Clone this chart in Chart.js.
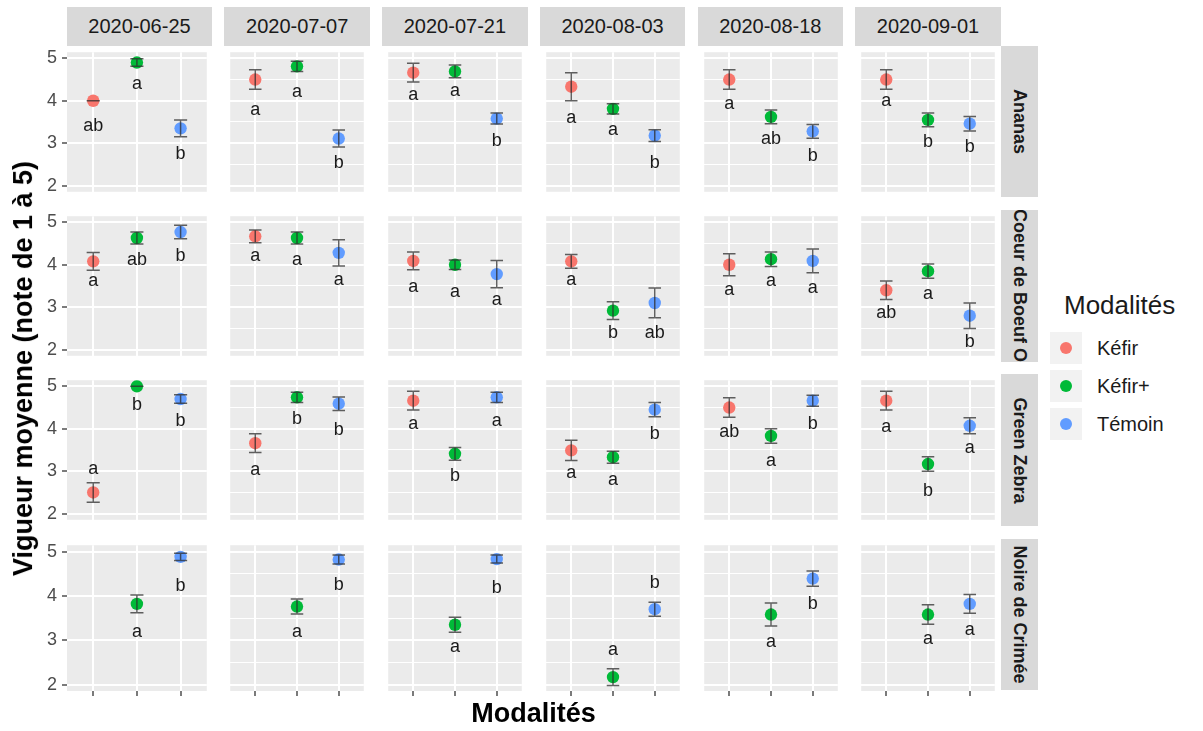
<!DOCTYPE html>
<html>
<head>
<meta charset="utf-8">
<script src="https://cdn.jsdelivr.net/npm/chart.js@4.4.1/dist/chart.umd.min.js"></script>
<style>
  body { margin: 0; background: #fff; font-family: "Liberation Sans", Arial, sans-serif; }
  #fig { position: relative; width: 1203px; height: 731px; overflow: hidden; }
  #fig canvas { position: absolute; }
  .strip { position: absolute; background: #D9D9D9; color: #1A1A1A; display: flex;
           align-items: center; justify-content: center; overflow: hidden; white-space: nowrap; }
  .strip.top { font-size: 20px; }
  .strip.side span { transform: rotate(90deg); font-weight: bold; font-size: 18px; display: block; }
  .title { position: absolute; font-weight: bold; font-size: 27px; color: #000; white-space: nowrap; }
  #legend { position: absolute; left: 1050px; top: 289px; color: #1A1A1A; }
  #legend .lt { font-size: 26px; margin-left: 14px; height: 40px; line-height: 32px; }
  #legend .row { display: flex; align-items: center; height: 38px; }
  #legend .key { width: 32px; height: 32px; background: #F2F2F2; position: relative; margin-right: 15px; }
  #legend .dot { position: absolute; left: 10px; top: 10px; width: 12px; height: 12px; border-radius: 50%; }
  #legend .lab { font-size: 20px; }
</style>
</head>
<body>
<div id="fig"></div>
<script>
// ── data ──────────────────────────────────────────────────────────────
const DATES     = ['2020-06-25', '2020-07-07', '2020-07-21', '2020-08-03', '2020-08-18', '2020-09-01'];
const VARIETIES = ['Ananas', 'Coeur de Boeuf O', 'Green Zebra', 'Noire de Crimée'];
const MODALITES = ['Kéfir', 'Kéfir+', 'Témoin'];
const COLORS    = ['#F8766D', '#00BA38', '#619CFF'];
const Y_TICKS   = [2, 3, 4, 5];

// mean score per date, one entry per modalité (Kéfir, Kéfir+, Témoin)
const meanAnanas = [[4.0, 4.9, 3.35], [4.5, 4.81, 3.11], [4.66, 4.69, 3.58], [4.33, 3.81, 3.18], [4.5, 3.62, 3.28], [4.5, 3.55, 3.46]];
const seAnanas   = [[0, 0.09, 0.2], [0.23, 0.12, 0.2], [0.22, 0.15, 0.13], [0.33, 0.12, 0.14], [0.23, 0.16, 0.16], [0.23, 0.16, 0.17]];
const letAnanas  = [['ab', 'a', 'b'], ['a', 'a', 'b'], ['a', 'a', 'b'], ['a', 'a', 'b'], ['a', 'ab', 'b'], ['a', 'b', 'b']];
const posAnanas  = [[3.41, 4.40, 2.74], [3.79, 4.20, 2.54], [4.13, 4.22, 3.06], [3.59, 3.31, 2.54], [3.92, 3.10, 2.70], [3.99, 3.03, 2.90]];

const meanCoeur = [[4.08, 4.63, 4.77], [4.67, 4.63, 4.28], [4.09, 4.0, 3.78], [4.08, 2.92, 3.1], [4.0, 4.13, 4.09], [3.4, 3.85, 2.8]];
const seCoeur   = [[0.21, 0.14, 0.16], [0.15, 0.14, 0.31], [0.21, 0.11, 0.32], [0.16, 0.21, 0.35], [0.26, 0.17, 0.28], [0.22, 0.17, 0.3]];
const letCoeur  = [['a', 'ab', 'b'], ['a', 'a', 'a'], ['a', 'a', 'a'], ['a', 'b', 'ab'], ['a', 'a', 'a'], ['ab', 'a', 'b']];
const posCoeur  = [[3.62, 4.12, 4.21], [4.21, 4.10, 3.64], [3.47, 3.36, 3.16], [3.64, 2.40, 2.40], [3.40, 3.62, 3.46], [2.86, 3.31, 2.19]];

const meanZebra = [[2.5, 5.0, 4.7], [3.66, 4.74, 4.59], [4.66, 3.41, 4.74], [3.49, 3.33, 4.45], [4.5, 3.83, 4.66], [4.66, 3.17, 4.07]];
const seZebra   = [[0.23, 0, 0.1], [0.22, 0.12, 0.16], [0.22, 0.15, 0.12], [0.24, 0.14, 0.17], [0.23, 0.17, 0.13], [0.22, 0.17, 0.19]];
const letZebra  = [['a', 'b', 'b'], ['a', 'b', 'b'], ['a', 'b', 'a'], ['a', 'a', 'b'], ['ab', 'a', 'b'], ['a', 'b', 'a']];
const posZebra  = [[3.05, 4.57, 4.19], [3.03, 4.24, 3.97], [4.12, 2.89, 4.19], [2.96, 2.80, 3.87], [3.92, 3.25, 4.10], [4.05, 2.53, 3.54]];

const meanNoire = [[null, 3.82, 4.88], [null, 3.76, 4.82], [null, 3.35, 4.83], [null, 2.17, 3.7], [null, 3.58, 4.39], [null, 3.58, 3.82]];
const seNoire   = [[null, 0.2, 0.08], [null, 0.17, 0.1], [null, 0.17, 0.09], [null, 0.19, 0.16], [null, 0.26, 0.17], [null, 0.22, 0.21]];
const letNoire  = [[null, 'a', 'b'], [null, 'a', 'b'], [null, 'a', 'b'], [null, 'a', 'b'], [null, 'a', 'b'], [null, 'a', 'a']];
const posNoire  = [[null, 3.19, 4.23], [null, 3.19, 4.24], [null, 2.85, 4.17], [null, 2.78, 4.29], [null, 2.96, 3.82], [null, 3.03, 3.24]];

const MEANS   = [meanAnanas, meanCoeur, meanZebra, meanNoire];
const SES     = [seAnanas, seCoeur, seZebra, seNoire];
const LETTERS = [letAnanas, letCoeur, letZebra, letNoire];
const LPOS    = [posAnanas, posCoeur, posZebra, posNoire];

// ── layout ────────────────────────────────────────────────────────────
const PX0 = 66.7, PW = 145.6, GX = 12.1;
const PY0 = 45.7, PH = 151.8, GY = 12.5;
const STRIP_H = 39, STRIP_W = 37;
const fig = document.getElementById('fig');

const panelBg = {
  id: 'panelBg',
  beforeDraw(chart) {
    const { ctx, chartArea: a } = chart;
    ctx.save();
    ctx.fillStyle = '#EBEBEB';
    ctx.fillRect(a.left, a.top, a.right - a.left, a.bottom - a.top);
    ctx.restore();
  },
};

const errorBars = {
  id: 'errorBars',
  afterDatasetsDraw(chart) {
    const { ctx, scales: { x, y } } = chart;
    ctx.save();
    ctx.strokeStyle = 'rgba(45,45,45,0.75)';
    ctx.lineWidth = 1.5;
    chart.data.datasets.forEach(ds => ds.data.forEach(d => {
      const px = x.getPixelForValue(d.x);
      const hw = x.getPixelForValue(d.x + 0.15) - px;
      const y1 = y.getPixelForValue(d.y + d.se), y2 = y.getPixelForValue(d.y - d.se);
      ctx.beginPath();
      ctx.moveTo(px - hw, y1); ctx.lineTo(px + hw, y1);
      ctx.moveTo(px, y1); ctx.lineTo(px, y2);
      ctx.moveTo(px - hw, y2); ctx.lineTo(px + hw, y2);
      ctx.stroke();
    }));
    ctx.restore();
  },
};

const letterLabels = {
  id: 'letterLabels',
  afterDatasetsDraw(chart) {
    const { ctx, scales: { x, y } } = chart;
    ctx.save();
    ctx.fillStyle = '#1A1A1A';
    ctx.font = '18px "Liberation Sans", Arial, sans-serif';
    ctx.textAlign = 'center';
    ctx.textBaseline = 'middle';
    chart.data.datasets.forEach(ds => ds.data.forEach(d => {
      ctx.fillText(d.lab, x.getPixelForValue(d.x), y.getPixelForValue(d.ly));
    }));
    ctx.restore();
  },
};

function makePanel(r, c) {
  const left = c === 0, bottom = r === VARIETIES.length - 1;
  const L = left ? 40 : 0, B = bottom ? 8 : 0;
  const canvas = document.createElement('canvas');
  const w = Math.round(PW + L), h = Math.round(PH + B);
  canvas.width = w; canvas.height = h;
  canvas.style.left = (PX0 + c * (PW + GX) - L) + 'px';
  canvas.style.top = (PY0 + r * (PH + GY)) + 'px';
  fig.appendChild(canvas);

  const datasets = MODALITES.map((m, k) => {
    const mean = MEANS[r][c][k];
    return {
      label: m,
      data: mean == null ? [] : [{ x: k + 1, y: mean, se: SES[r][c][k], lab: LETTERS[r][c][k], ly: LPOS[r][c][k] }],
      backgroundColor: COLORS[k],
      borderWidth: 0,
      pointRadius: 6.2,
      pointHoverRadius: 6.2,
    };
  });

  new Chart(canvas, {
    type: 'scatter',
    data: { datasets },
    options: {
      responsive: false,
      animation: false,
      events: [],
      layout: { padding: 0 },
      plugins: { legend: { display: false }, tooltip: { enabled: false } },
      scales: {
        x: {
          type: 'linear', min: 0.4, max: 3.6,
          afterBuildTicks: s => { s.ticks = [1, 2, 3].map(v => ({ value: v })); },
          afterFit: s => { s.height = B; s.paddingLeft = 0; s.paddingRight = 0; },
          grid: { color: '#FFFFFF', lineWidth: 2, drawTicks: bottom, tickLength: 5, tickColor: '#333333', tickWidth: 1.3 },
          border: { display: false },
          ticks: { display: false },
        },
        y: {
          min: 1.857, max: 5.143,
          afterBuildTicks: s => { s.ticks = [2, 2.5, 3, 3.5, 4, 4.5, 5].map(v => ({ value: v })); },
          afterFit: s => { s.width = L; s.paddingTop = 0; s.paddingBottom = 0; },
          grid: {
            color: '#FFFFFF',
            lineWidth: ctx => (Y_TICKS.includes(ctx.tick.value) ? 2 : 1),
            drawTicks: left, tickLength: 5, tickWidth: 1.3,
            tickColor: ctx => (Y_TICKS.includes(ctx.tick.value) ? '#333333' : 'rgba(0,0,0,0)'),
          },
          border: { display: false },
          ticks: {
            display: left, padding: 5, color: '#4D4D4D',
            font: { size: 18, family: '"Liberation Sans", Arial, sans-serif' },
            callback: v => (Y_TICKS.includes(v) ? String(v) : ''),
          },
        },
      },
    },
    plugins: [panelBg, errorBars, letterLabels],
  });
}

VARIETIES.forEach((v, r) => DATES.forEach((d, c) => makePanel(r, c)));

// strips
DATES.forEach((d, c) => {
  const s = document.createElement('div');
  s.className = 'strip top';
  s.style.cssText = `left:${PX0 + c * (PW + GX)}px;top:${PY0 - STRIP_H}px;width:${PW}px;height:${STRIP_H}px;`;
  s.textContent = d;
  fig.appendChild(s);
});
VARIETIES.forEach((v, r) => {
  const s = document.createElement('div');
  s.className = 'strip side';
  s.style.cssText = `left:${PX0 + 6 * PW + 5 * GX}px;top:${PY0 + r * (PH + GY)}px;width:${STRIP_W}px;height:${PH}px;`;
  s.innerHTML = `<span>${v}</span>`;
  fig.appendChild(s);
});

// axis titles
const xt = document.createElement('div');
xt.className = 'title';
xt.textContent = 'Modalités';
fig.appendChild(xt);
xt.style.left = (PX0 + (6 * PW + 5 * GX) / 2 - xt.offsetWidth / 2) + 'px';
xt.style.top = (713 - xt.offsetHeight / 2) + 'px';

const yt = document.createElement('div');
yt.className = 'title';
yt.textContent = 'Vigueur moyenne (note de 1 à 5)';
fig.appendChild(yt);
const cy = PY0 + (4 * PH + 3 * GY) / 2;
yt.style.left = (23 - yt.offsetWidth / 2) + 'px';
yt.style.top = (cy - yt.offsetHeight / 2) + 'px';
yt.style.transform = 'rotate(-90deg)';

// legend
const lg = document.createElement('div');
lg.id = 'legend';
lg.innerHTML = '<div class="lt">Modalités</div>' + MODALITES.map((m, k) =>
  `<div class="row"><div class="key"><div class="dot" style="background:${COLORS[k]}"></div></div><span class="lab">${m}</span></div>`).join('');
fig.appendChild(lg);
</script>
</body>
</html>
